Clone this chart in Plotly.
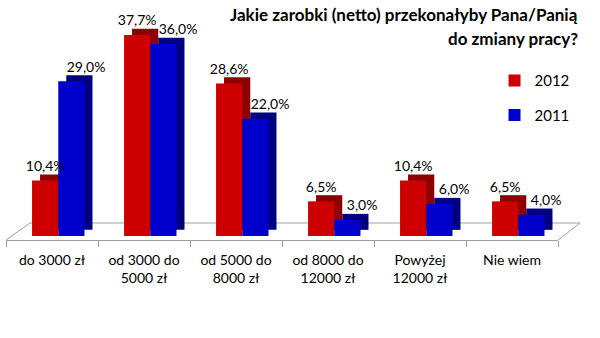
import plotly.graph_objects as go

categories = ["do 3000 zł", "od 3000 do<br>5000 zł", "od 5000 do<br>8000 zł",
              "od 8000 do<br>12000 zł", "Powyżej<br>12000 zł", "Nie wiem"]
v2012 = [10.4, 37.7, 28.6, 6.5, 10.4, 6.5]
v2011 = [29.0, 36.0, 22.0, 3.0, 6.0, 4.0]

xs = list(range(len(categories)))
fmt = lambda v: f"{v:.1f}%".replace(".", ",")

RED, RED_D = "#CC0000", "#8E0000"
BLUE, BLUE_D = "#0000CC", "#000080"
FONT = "Lato"

dx = 0.087   # depth offset in category units
dy = 1.15    # depth offset in value units
w = 0.285

fig = go.Figure()
# (name, values, bar offset, front colour, side colour, label shift)
series = [("2012", v2012, -0.217, RED, RED_D, 0.0),
          ("2011", v2011, 0.068, BLUE, BLUE_D, 0.16)]
for name, vals, off, c, cd, ls in series:
    fig.add_trace(go.Bar(
        x=xs, y=vals, base=[dy] * len(vals), offset=off + dx, width=w,
        marker=dict(color=cd, line=dict(width=0)), showlegend=False,
        hoverinfo="skip"))
    fig.add_trace(go.Bar(
        x=xs, y=vals, offset=off, width=w, name=name,
        marker=dict(color=c, line=dict(width=0)), legendgroup=name))

for name, vals, off, c, cd, ls in series:
    fig.add_trace(go.Scatter(
        x=[i + off + w / 2 + ls for i in xs], y=[v + dy for v in vals],
        mode="text", text=[fmt(v) for v in vals], textposition="top center",
        textfont=dict(family=FONT, size=14, color="#000"),
        showlegend=False, cliponaxis=False, hoverinfo="skip"))

fig.update_layout(
    width=600, height=338, barmode="overlay",
    margin=dict(l=6, r=42, t=0, b=98),
    paper_bgcolor="white", plot_bgcolor="white",
    font=dict(family=FONT, size=14, color="#000"),
    xaxis=dict(range=[-0.5, 5.5], tickvals=xs, ticktext=categories,
               showgrid=False, zeroline=False, showline=True,
               linecolor="#A0A0A0", linewidth=1, ticks="", ticklabelstandoff=7,
               tickfont=dict(family=FONT, size=14, color="#000"),
               minor=dict(tick0=-0.5, dtick=1, ticks="outside", ticklen=6,
                          tickcolor="#A0A0A0", showgrid=False)),
    yaxis=dict(range=[-0.75, 44.25], visible=False),
    legend=dict(x=0.885, y=0.7325, xanchor="left", yanchor="top",
                font=dict(family=FONT, size=15), tracegroupgap=12,
                bgcolor="rgba(0,0,0,0)"),
    shapes=[dict(type="path", xref="paper", yref="paper",
                 path="M 0 0 L 0.0435 0.0708 L 1.0399 0.0708 L 1 0",
                 line=dict(color="#A0A0A0", width=1), layer="below")],
    annotations=[
        dict(text="<b>Jakie zarobki (netto) przekonałyby Pana/Panią</b>", xref="paper", yref="paper",
             x=(580 - 6) / 552, y=(240 - 14) / 240, xanchor="right", yanchor="middle",
             showarrow=False, font=dict(family=FONT, size=17, color="#000")),
        dict(text="<b>do zmiany pracy?</b>", xref="paper", yref="paper",
             x=(580 - 6) / 552, y=(240 - 38) / 240, xanchor="right", yanchor="middle",
             showarrow=False, font=dict(family=FONT, size=17, color="#000")),
    ],
)

fig.write_html("out.html")
